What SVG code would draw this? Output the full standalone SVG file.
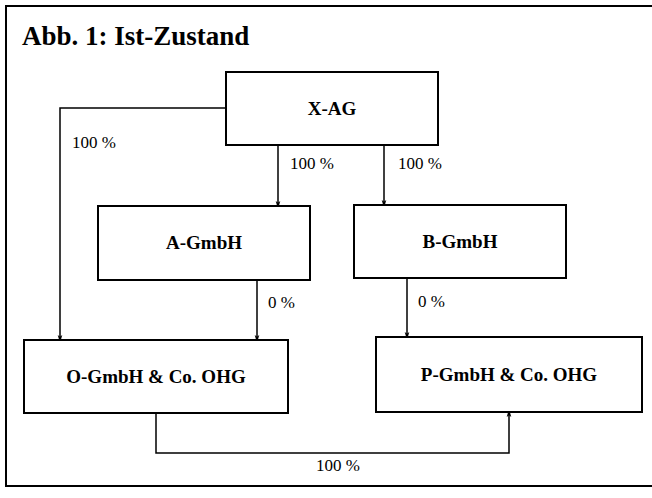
<svg xmlns="http://www.w3.org/2000/svg" width="652" height="498" viewBox="0 0 652 498">
<style>
.box{fill:#fff;stroke:#000;stroke-width:2}
.nt{font-family:"Liberation Serif",serif;font-weight:bold;font-size:19px;text-anchor:middle;fill:#000}
.lb{font-family:"Liberation Serif",serif;font-size:17px;fill:#000}
.ln{fill:none;stroke:#000;stroke-width:1.5}
</style>
<defs>
<marker id="ah" markerWidth="8" markerHeight="14" refX="7" refY="4" orient="auto" markerUnits="userSpaceOnUse" viewBox="0 0 14 8">
<path d="M0,0 L14,4 L0,8 L3,4 Z" fill="#000"/>
</marker>
</defs>
<rect width="652" height="498" fill="#fff"/>
<path d="M652,6 H6 V486 H652" fill="none" stroke="#000" stroke-width="2"/>
<text x="22" y="45" font-family="Liberation Serif, serif" font-weight="bold" font-size="27">Abb. 1: Ist-Zustand</text>
<g id="connectors">
<path class="ln" d="M226,108 H60 V339" marker-end="url(#ah)"/>
<path class="ln" d="M278,145 V205" marker-end="url(#ah)"/>
<path class="ln" d="M384,145 V204" marker-end="url(#ah)"/>
<path class="ln" d="M257,280 V339" marker-end="url(#ah)"/>
<path class="ln" d="M407,278 V336" marker-end="url(#ah)"/>
<path class="ln" d="M156,413 V453 H509 V413" marker-end="url(#ah)"/>
<text class="lb" x="72" y="148">100 %</text>
<text class="lb" x="290" y="169">100 %</text>
<text class="lb" x="398" y="169">100 %</text>
<text class="lb" x="268" y="308">0 %</text>
<text class="lb" x="418" y="307">0 %</text>
<text class="lb" x="316" y="471">100 %</text>
</g>
<g id="x-ag"><rect class="box" x="226" y="72" width="212" height="73"/><text class="nt" x="332" y="115">X-AG</text></g>
<g id="a-gmbh"><rect class="box" x="98" y="206" width="212" height="74"/><text class="nt" x="204" y="249">A-GmbH</text></g>
<g id="b-gmbh"><rect class="box" x="354" y="205" width="212" height="73"/><text class="nt" x="460" y="248">B-GmbH</text></g>
<g id="o-gmbh"><rect class="box" x="24" y="340" width="264" height="73"/><text class="nt" x="156" y="383">O-GmbH &amp; Co. OHG</text></g>
<g id="p-gmbh"><rect class="box" x="376" y="337" width="266" height="75"/><text class="nt" x="509" y="381">P-GmbH &amp; Co. OHG</text></g>
</svg>
